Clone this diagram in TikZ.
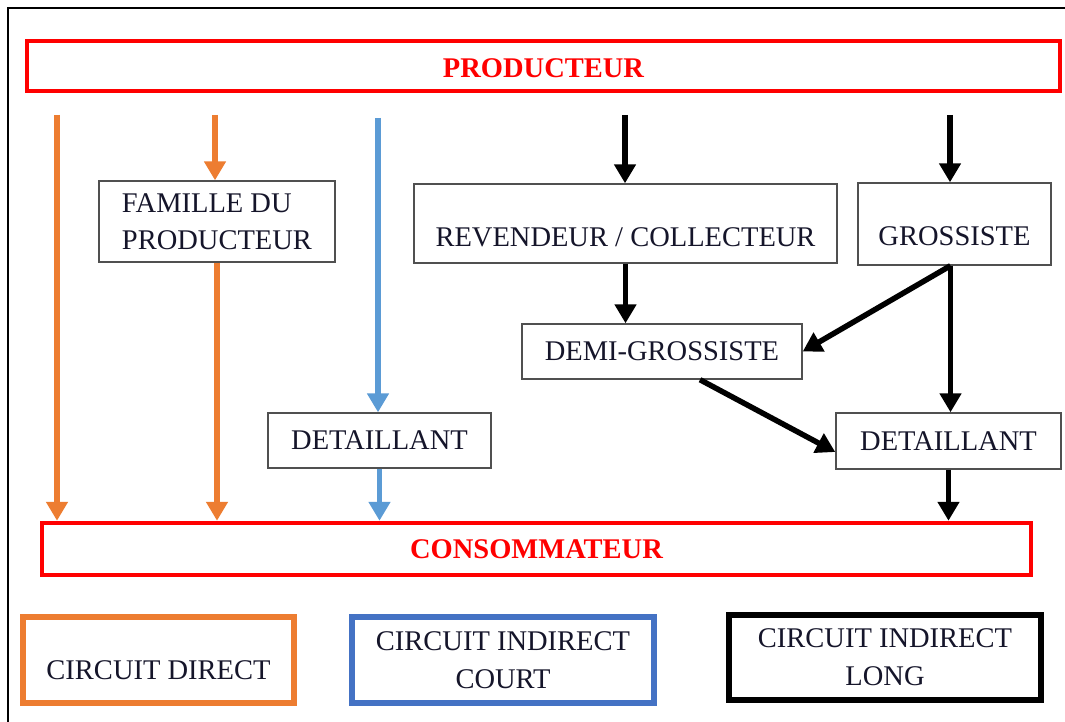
\documentclass[tikz,border=0pt]{standalone}
\usepackage{fontspec}
\setmainfont{Liberation Serif}
\usetikzlibrary{arrows.meta,positioning,calc}
\definecolor{rouge}{HTML}{FF0000}
\definecolor{orangec}{HTML}{ED7D31}
\definecolor{bleuc}{HTML}{5B9BD5}
\definecolor{bleuf}{HTML}{4472C4}
\definecolor{grisb}{HTML}{505050}
\definecolor{encre}{HTML}{15152A}
\tikzset{
  boite/.style={draw=grisb, line width=1.4pt, fill=white, align=left, inner sep=4pt, text=encre, font=\fontsize{28.5}{37}\selectfont},
  pole/.style={draw=rouge, line width=4.5pt, text=rouge, inner sep=0pt, font=\fontsize{28.5}{34}\selectfont\bfseries},
  legende/.style={line width=6pt, align=center, inner sep=0pt, text=encre, font=\fontsize{28.5}{38}\selectfont},
  fl/.style={-{Triangle[length=19pt,width=21pt]}, line width=5.5pt},
  flo/.style={fl, draw=orangec},
  flb/.style={fl, draw=bleuc},
  fln/.style={fl, draw=black},
}

\begin{document}
\begin{tikzpicture}[x=1pt, y=-1pt]
  \fill[white] (0,0) rectangle (1065,722);
  \useasboundingbox (0,0) rectangle (1065,722);
  \draw[line width=1.6pt] (8,730) -- (8,8) -- (1070,8);

  \node[pole, minimum width=1033pt, minimum height=50pt, text height=37pt, text depth=13pt] (prod) at (543.5,66) {PRODUCTEUR};
  \node[pole, minimum width=989pt, minimum height=52pt] (cons) at (536.5,549) {CONSOMMATEUR};

  \node[boite, minimum width=236pt, minimum height=81pt] (fam) at (217,221.5) {FAMILLE DU\\PRODUCTEUR};
  \node[boite, minimum width=423pt, minimum height=79pt, text height=58.5pt, text depth=12.5pt] (rev) at (625.5,223.5) {REVENDEUR / COLLECTEUR};
  \node[boite, minimum width=193pt, minimum height=82pt, text height=58.5pt, text depth=15.5pt] (gros) at (954.5,224) {GROSSISTE};
  \node[boite, minimum width=280pt, minimum height=55pt] (demi) at (662,351.5) {DEMI-GROSSISTE};
  \node[boite, minimum width=223pt, minimum height=55pt] (det1) at (379.5,440.5) {DETAILLANT};
  \node[boite, minimum width=225pt, minimum height=56pt] (det2) at (948.5,441) {DETAILLANT};

  \coordinate (o1) at (57,115);
  \coordinate (o2) at (215,115);
  \coordinate (b1) at (378,118);
  \coordinate (n1) at (625,115);
  \coordinate (n2) at (950,115);

  \draw[flo] (o1) -- (o1 |- cons.north);
  \draw[flo] (o2) -- (o2 |- fam.north);
  \draw[flo] (fam.south) -- (fam.south |- cons.north);
  \draw[flb] (b1) -- (b1 |- det1.north);
  \draw[flb] (det1.south) -- (det1.south |- cons.north);
  \draw[fln] (n1) -- (n1 |- rev.north);
  \draw[fln] (n2) -- (n2 |- gros.north);
  \draw[fln] (rev.south) -- (rev.south |- demi.north);
  \draw[fln] ([xshift=-4pt]gros.south) -- (demi.east);
  \draw[fln] ([xshift=-4pt]gros.south) -- ([xshift=-4pt]gros.south |- det2.north);
  \draw[fln] ([xshift=38pt]demi.south) -- ([yshift=-11pt]det2.west);
  \draw[fln] (det2.south) -- (det2.south |- cons.north);

  \node[legende, draw=orangec, minimum width=271pt, minimum height=86pt, text height=62.5pt, text depth=23.5pt] (leg1) at (158.5,660) {CIRCUIT DIRECT};
  \node[legende, draw=bleuf, minimum width=302pt, minimum height=86pt] (leg2) at (503,660) {CIRCUIT INDIRECT\\COURT};
  \node[legende, draw=black, minimum width=312pt, minimum height=85pt] (leg3) at (885,657.5) {CIRCUIT INDIRECT\\LONG};
\end{tikzpicture}
\end{document}
